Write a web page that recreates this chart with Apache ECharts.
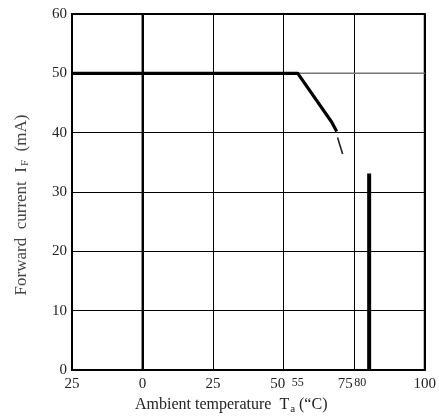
<!DOCTYPE html>
<html>
<head>
<meta charset="utf-8">
<script src="https://cdn.jsdelivr.net/npm/echarts@6/dist/echarts.min.js"></script>
<style>html,body{margin:0;padding:0;background:#fff}#c{width:439px;height:417px}</style>
</head>
<body>
<div id="c"></div>
<script>
// Tick labels of the temperature axis (as printed in the scan)
const tempTicks = [-25, 0, 25, 50, 55, 75, 80, 100];
const tempTickText = ['25', '0', '25', '50', '55', '75', '80', '100'];
const currentTicks = [0, 10, 20, 30, 40, 50, 60];
// Derating curve (thick line)
const deratingT = [-25, 55, 67, 68.8];
const deratingI = [50, 50, 41.8, 40.2];
// Short broken continuation dash
const dashT = [69.1, 70.9];
const dashI = [39.2, 36.4];
// Thin 50 mA reference continuing to the right
const refT = [55, 100];
const refI = [50, 50];
// Thick vertical bar near 80 °C
const barT = [80.3, 80.3];
const barI = [0, 33.1];
// 0 °C heavy grid line
const zeroT = [0, 0];
const zeroI = [0, 60];

const zip = (a, b) => a.map((v, i) => [v, b[i]]);
const font = '"Liberation Serif", "DejaVu Serif", serif';

const chart = echarts.init(document.getElementById('c'), null, {renderer: 'canvas'});
chart.setOption({
  animation: false,
  backgroundColor: '#fff',
  grid: {left: 72, right: 12, top: 14, bottom: 47, show: true, borderColor: '#000', borderWidth: 2},
  xAxis: {
    type: 'value', min: -25, max: 100, interval: 25,
    axisLine: {show: true, lineStyle: {color: '#000', width: 2}},
    axisTick: {show: false},
    splitLine: {show: true, lineStyle: {color: '#000', width: 1}},
    axisLabel: {
      customValues: tempTicks,
      margin: 7,
      color: '#222',
      fontFamily: font,
      fontSize: 15,
      formatter: v => {
        const t = tempTickText[tempTicks.indexOf(v)];
        if (v === 50) return '{l|' + t + '}';
        if (v === 75) return '{m|' + t + '}';
        if (v === 80) return '{s|' + t + '}';
        if (v === 55) return '{t|' + t + '}';
        return '{n|' + t + '}';
      },
      rich: {
        n: {fontFamily: font, fontSize: 15, color: '#222'},
        l: {fontFamily: font, fontSize: 15, color: '#222', padding: [0, 12, 0, 0]},
        m: {fontFamily: font, fontSize: 15, color: '#222', padding: [0, 18, 0, 0]},
        s: {fontFamily: font, fontSize: 12, color: '#222', padding: [0, 16, 2, 0]},
        t: {fontFamily: font, fontSize: 12, color: '#222', padding: [0, 0, 2, 0]}
      }
    }
  },
  yAxis: {
    type: 'value', min: 0, max: 60, interval: 10,
    axisLine: {show: true, lineStyle: {color: '#000', width: 2}},
    axisTick: {show: false},
    splitLine: {show: true, lineStyle: {color: '#000', width: 1}},
    axisLabel: {margin: 5, color: '#222', fontFamily: font, fontSize: 15,
      formatter: v => currentTicks.includes(v) ? String(v) : ''}
  },
  series: [
    {type: 'line', data: zip(zeroT, zeroI), symbol: 'none', lineStyle: {color: '#000', width: 2}, z: 3},
    {type: 'line', data: zip(refT, refI), symbol: 'none', lineStyle: {color: '#777', width: 1.5}, z: 3},
    {type: 'line', data: zip(deratingT, deratingI), symbol: 'none', lineStyle: {color: '#000', width: 3.2, join: 'round'}, z: 4},
    {type: 'line', data: zip(dashT, dashI), symbol: 'none', lineStyle: {color: '#222', width: 1.6}, z: 4},
    {type: 'line', data: zip(barT, barI), symbol: 'none', lineStyle: {color: '#000', width: 4, cap: 'butt'}, z: 4}
  ],
  graphic: [
    {type: 'text', left: 135, top: 397,
      style: {text: '{a|Ambient temperature  T}{b|a}{a| (“C)}', rich: {
        a: {fontFamily: font, fontSize: 16, fill: '#222'},
        b: {fontFamily: font, fontSize: 11, fill: '#222', padding: [8, 0, 0, 1]}
      }}},
    {type: 'text', x: 22, y: 205, rotation: Math.PI / 2,
      style: {text: '{a|Forward  current  I}{b|F}{a|  (mA)}', align: 'center', verticalAlign: 'middle', rich: {
        a: {fontFamily: font, fontSize: 17, fill: '#444'},
        b: {fontFamily: font, fontSize: 11, fill: '#444', padding: [7, 0, 0, 1]}
      }}}
  ]
});
</script>
</body>
</html>
